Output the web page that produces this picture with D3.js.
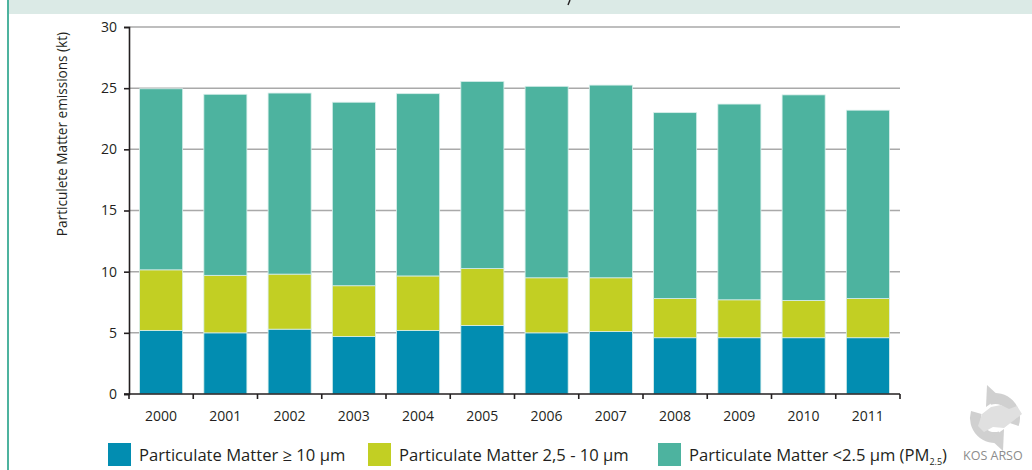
<!DOCTYPE html>
<html lang='en'>
  <head>
    <meta charset='utf-8'>
    <title>Particulate matter emissions</title>
    <script type='text/javascript' src='https://cdn.jsdelivr.net/npm/d3@7'></script>
    <style>
      body { margin: 0; background: #fff; }
      text { font-family: 'Open Sans', sans-serif; fill: #231f20; }
    </style>
  </head>
  <body>
    <script type='text/javascript'>

      // data (kt)
      var years = ['2000','2001','2002','2003','2004','2005','2006','2007','2008','2009','2010','2011'];
      var pm10 = [5.2, 5.0, 5.3, 4.7, 5.2, 5.6, 5.0, 5.1, 4.6, 4.6, 4.6, 4.6];
      var pm25to10 = [4.95, 4.7, 4.5, 4.15, 4.45, 4.65, 4.5, 4.4, 3.2, 3.1, 3.05, 3.2];
      var pm25 = [14.8, 14.8, 14.8, 15.0, 14.9, 15.3, 15.65, 15.75, 15.2, 16.0, 16.8, 15.4];
      var yTicks = [0, 5, 10, 15, 20, 25, 30];
      var seriesKeys = ['pm10', 'pm25to10', 'pm25'];
      var seriesColors = ['#028db1', '#c2cf23', '#4db39f'];

      var w = 1032;
      var h = 470;
      var margin = {left: 129, right: 132, top: 27, bottom: 76};

      var svg = d3.select('body')
                  .append('svg')
                  .attr('width', w)
                  .attr('height', h);

      // frame bits: header band and teal left rule
      svg.append('rect')
         .attr('x', 9).attr('y', 0)
         .attr('width', w - 9).attr('height', 14)
         .attr('fill', '#dbeae6');
      svg.append('line')
         .attr('x1', 8).attr('x2', 8)
         .attr('y1', 0).attr('y2', h)
         .attr('stroke', '#4db39f')
         .attr('stroke-width', 2);
      // tail of the cut-off title above the frame
      svg.append('path')
         .attr('d', 'M570,0 L568,5')
         .attr('stroke', '#231f20')
         .attr('stroke-width', 1.4);

      var table = years.map(function(y, i){
        return {year: y, pm10: pm10[i], pm25to10: pm25to10[i], pm25: pm25[i]};
      });
      var stacked = d3.stack().keys(seriesKeys)(table);

      var xScale = d3.scaleBand()
                     .domain(years)
                     .range([margin.left, w - margin.right])
                     .paddingInner(0.33)
                     .paddingOuter(0.165);

      var yScale = d3.scaleLinear()
                     .domain([0, 30])
                     .range([h - margin.bottom, margin.top]);

      // grid
      svg.append('g')
         .selectAll('line')
         .data(yTicks.slice(1))
         .enter()
         .append('line')
         .attr('x1', margin.left)
         .attr('x2', w - margin.right)
         .attr('y1', function(d){ return yScale(d); })
         .attr('y2', function(d){ return yScale(d); })
         .attr('stroke', '#a9a9a9')
         .attr('stroke-width', 1.5);

      // bars
      svg.append('g')
         .selectAll('g')
         .data(stacked)
         .enter()
         .append('g')
         .attr('fill', function(d, i){ return seriesColors[i]; })
         .selectAll('rect')
         .data(function(d){ return d; })
         .enter()
         .append('rect')
         .attr('x', function(d){ return xScale(d.data.year); })
         .attr('y', function(d){ return yScale(d[1]); })
         .attr('width', xScale.bandwidth())
         .attr('height', function(d){ return yScale(d[0]) - yScale(d[1]); })
         .attr('stroke', '#d7eeea')
         .attr('stroke-width', 0.8);

      // y axis
      var yAxis = svg.append('g')
                     .attr('transform', 'translate(' + margin.left + ',0)')
                     .call(d3.axisLeft(yScale).tickValues(yTicks).tickSize(5).tickPadding(7));
      yAxis.selectAll('path, line').attr('stroke', '#231f20').attr('stroke-width', 1.6);
      yAxis.selectAll('text').attr('font-size', 14).attr('fill', '#231f20');

      // x axis: ticks on band edges
      var xAxisY = yScale(0);
      var xg = svg.append('g');
      xg.append('line')
        .attr('x1', margin.left - 5).attr('x2', w - margin.right)
        .attr('y1', xAxisY).attr('y2', xAxisY)
        .attr('stroke', '#231f20').attr('stroke-width', 1.6);
      var step = xScale.step();
      xg.selectAll('line.tick')
        .data(d3.range(years.length + 1))
        .enter()
        .append('line')
        .attr('class', 'tick')
        .attr('x1', function(i){ return margin.left + i * step; })
        .attr('x2', function(i){ return margin.left + i * step; })
        .attr('y1', xAxisY)
        .attr('y2', xAxisY + 5)
        .attr('stroke', '#231f20').attr('stroke-width', 1.6);
      xg.selectAll('text')
        .data(years)
        .enter()
        .append('text')
        .attr('x', function(d){ return xScale(d) + xScale.bandwidth()/2; })
        .attr('y', xAxisY + 27)
        .attr('text-anchor', 'middle')
        .attr('font-size', 14)
        .text(function(d){ return d; });

      // y axis title
      svg.append('text')
         .attr('transform', 'translate(67,134) rotate(-90)')
         .attr('text-anchor', 'middle')
         .attr('font-size', 13.6)
         .text('Particulete Matter emissions (kt)');

      // legend
      var legendX = [108, 368, 658];
      var legend = svg.append('g');
      legend.selectAll('rect')
            .data(seriesColors)
            .enter()
            .append('rect')
            .attr('x', function(d, i){ return legendX[i]; })
            .attr('y', 443)
            .attr('width', 23)
            .attr('height', 23)
            .attr('fill', function(d){ return d; });
      var labels = ['Particulate Matter \u2265 10 \u00b5m', 'Particulate Matter 2,5 - 10 \u00b5m', 'Particulate Matter <2.5 \u00b5m (PM'];
      var lt = legend.selectAll('text')
            .data(labels)
            .enter()
            .append('text')
            .attr('x', function(d, i){ return legendX[i] + 31; })
            .attr('y', 461)
            .attr('font-size', 16.6)
            .text(function(d){ return d; });
      var last = lt.filter(function(d, i){ return i === 2; });
      last.append('tspan').attr('dy', 4).attr('font-size', 9).text('2.5');
      last.append('tspan').attr('dy', -4).text(')');

      // KOS ARSO mark
      var logo = svg.append('g').attr('transform', 'translate(995,418)');
      var arc = d3.arc().innerRadius(14).outerRadius(25);
      logo.append('path')
          .attr('d', arc({startAngle: -0.3, endAngle: 1.9}))
          .attr('fill', '#d0d0d0');
      logo.append('path')
          .attr('d', arc({startAngle: 2.85, endAngle: 5.0}))
          .attr('fill', '#d0d0d0');
      logo.append('path')
          .attr('d', 'M-8,-33 L5,-21 L-9,-11 Z')
          .attr('fill', '#d0d0d0');
      logo.append('path')
          .attr('d', 'M8,33 L-5,21 L9,11 Z')
          .attr('fill', '#d0d0d0');
      logo.append('path')
          .attr('d', 'M-17,8 L-13,-4 L-4,-11 L6,-13 L14,-9 L22,-12 L27,-4 L18,3 L9,10 L-2,9 L-11,14 Z')
          .attr('fill', '#e0e0e0');
      svg.append('text')
         .attr('x', 963)
         .attr('y', 460)
         .attr('font-size', 12.5)
         .style('fill', '#8c8c8c')
         .text('KOS ARSO');

    </script>
  </body>
</html>
